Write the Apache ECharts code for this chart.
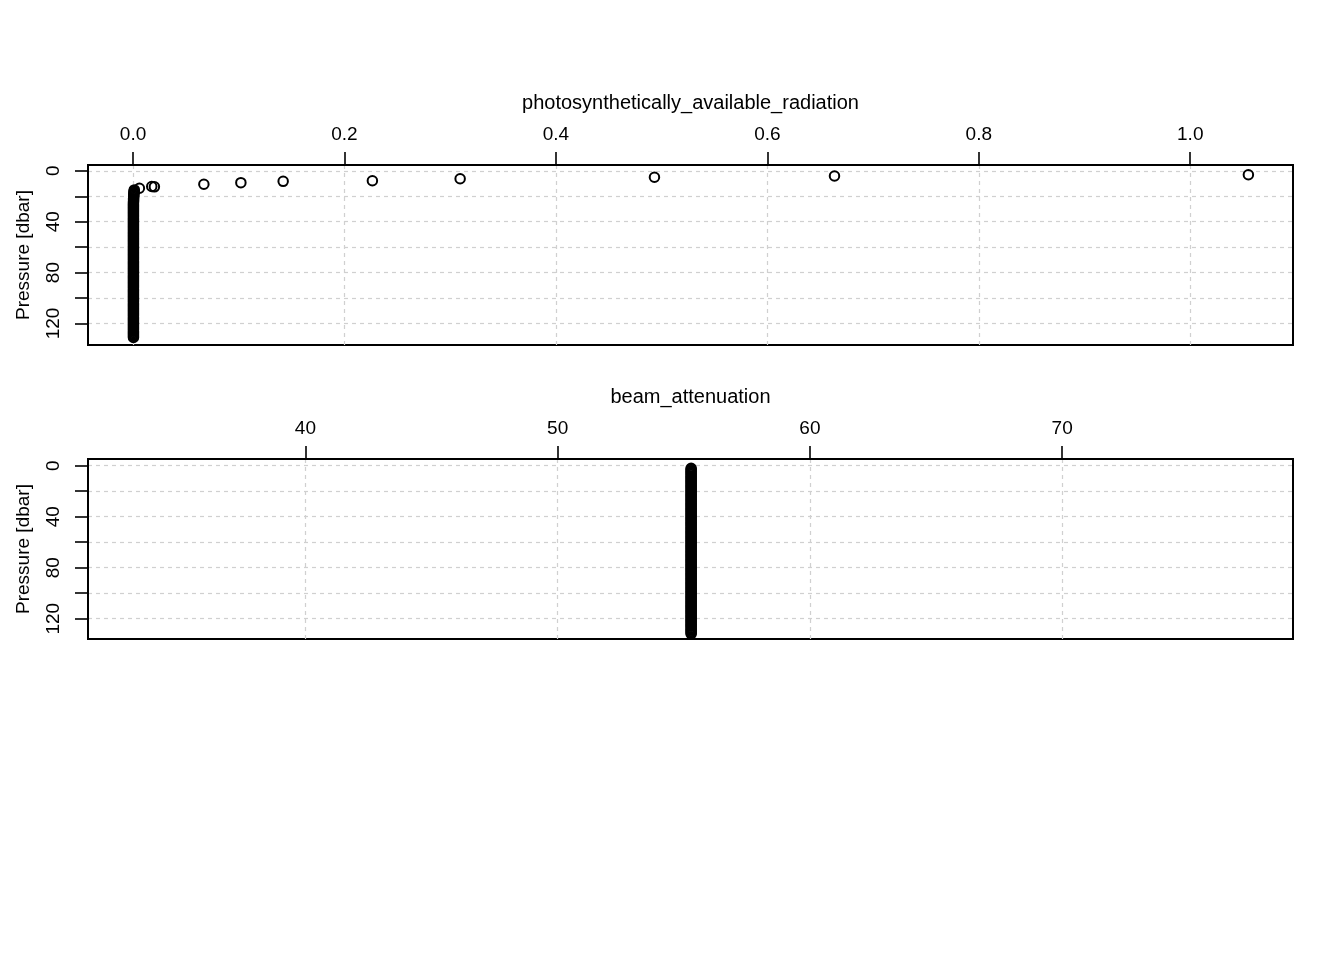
<!DOCTYPE html>
<html>
<head>
<meta charset="utf-8">
<script src="https://cdn.jsdelivr.net/npm/echarts@6/dist/echarts.min.js"></script>
<style>
html,body{margin:0;padding:0;background:#fff;}
#chart{width:1344px;height:960px;}
</style>
</head>
<body>
<div id="chart"></div>
<script>
// ---- Panel 1: photosynthetically_available_radiation ----
var parTitle = "photosynthetically_available_radiation";
var parPressure = [
  3.1, 4.1, 5.1, 6.2, 7.8, 8.3, 9.3, 10.6, 12.3, 12.6, 13.7,
  15, 16, 17, 18, 19, 20, 21, 22, 23, 24, 25, 26, 27, 28, 29, 30,
  31, 32, 33, 34, 35, 36, 37, 38, 39, 40, 41, 42, 43, 44, 45, 46, 47, 48, 49, 50,
  51, 52, 53, 54, 55, 56, 57, 58, 59, 60, 61, 62, 63, 64, 65, 66, 67, 68, 69, 70,
  71, 72, 73, 74, 75, 76, 77, 78, 79, 80, 81, 82, 83, 84, 85, 86, 87, 88, 89, 90,
  91, 92, 93, 94, 95, 96, 97, 98, 99, 100, 101, 102, 103, 104, 105, 106, 107, 108, 109, 110,
  111, 112, 113, 114, 115, 116, 117, 118, 119, 120, 121, 122, 123, 124, 125, 126, 127, 128, 129, 130, 131
];
var parValue = [
  1.055, 0.6635, 0.4932, 0.3094, 0.2264, 0.142, 0.102, 0.067, 0.0177, 0.0202, 0.006,
  0.0012, 0.0010, 0.0009, 0.0008, 0.0007, 0.0006, 0.0006, 0.0005, 0.0005, 0.0005, 0.0004, 0.0004, 0.0004, 0.0004, 0.0004, 0.0004,
  0.0004, 0.0004, 0.0004, 0.0004, 0.0004, 0.0004, 0.0004, 0.0004, 0.0004, 0.0004, 0.0004, 0.0004, 0.0004, 0.0004, 0.0004, 0.0004, 0.0004, 0.0004, 0.0004, 0.0004,
  0.0004, 0.0004, 0.0004, 0.0004, 0.0004, 0.0004, 0.0004, 0.0004, 0.0004, 0.0004, 0.0004, 0.0004, 0.0004, 0.0004, 0.0004, 0.0004, 0.0004, 0.0004, 0.0004, 0.0004,
  0.0004, 0.0004, 0.0004, 0.0004, 0.0004, 0.0004, 0.0004, 0.0004, 0.0004, 0.0004, 0.0004, 0.0004, 0.0004, 0.0004, 0.0004, 0.0004, 0.0004, 0.0004, 0.0004, 0.0004,
  0.0004, 0.0004, 0.0004, 0.0004, 0.0004, 0.0004, 0.0004, 0.0004, 0.0004, 0.0004, 0.0004, 0.0004, 0.0004, 0.0004, 0.0004, 0.0004, 0.0004, 0.0004, 0.0004, 0.0004,
  0.0004, 0.0004, 0.0004, 0.0004, 0.0004, 0.0004, 0.0004, 0.0004, 0.0004, 0.0004, 0.0004, 0.0004, 0.0004, 0.0004, 0.0004, 0.0004, 0.0004, 0.0004, 0.0004, 0.0004, 0.0004
];
var parTicks = [0, 0.2, 0.4, 0.6, 0.8, 1.0];

// ---- Panel 2: beam_attenuation ----
var beamTitle = "beam_attenuation";
var beamPressure = [
  2, 3, 4, 5, 6, 7, 8, 9, 10, 11, 12, 13, 14, 15, 16, 17, 18, 19, 20,
  21, 22, 23, 24, 25, 26, 27, 28, 29, 30, 31, 32, 33, 34, 35, 36, 37, 38, 39, 40,
  41, 42, 43, 44, 45, 46, 47, 48, 49, 50, 51, 52, 53, 54, 55, 56, 57, 58, 59, 60,
  61, 62, 63, 64, 65, 66, 67, 68, 69, 70, 71, 72, 73, 74, 75, 76, 77, 78, 79, 80,
  81, 82, 83, 84, 85, 86, 87, 88, 89, 90, 91, 92, 93, 94, 95, 96, 97, 98, 99, 100,
  101, 102, 103, 104, 105, 106, 107, 108, 109, 110, 111, 112, 113, 114, 115, 116, 117, 118, 119, 120,
  121, 122, 123, 124, 125, 126, 127, 128, 129, 130, 131, 132
];
var beamValue = [
  55.29, 55.29, 55.29, 55.29, 55.29, 55.29, 55.29, 55.29, 55.29, 55.29, 55.29, 55.29, 55.29, 55.29, 55.29, 55.29, 55.29, 55.29, 55.29,
  55.29, 55.29, 55.29, 55.29, 55.29, 55.29, 55.29, 55.29, 55.29, 55.29, 55.29, 55.29, 55.29, 55.29, 55.29, 55.29, 55.29, 55.29, 55.29, 55.29,
  55.29, 55.29, 55.29, 55.29, 55.29, 55.29, 55.29, 55.29, 55.29, 55.29, 55.29, 55.29, 55.29, 55.29, 55.29, 55.29, 55.29, 55.29, 55.29, 55.29,
  55.29, 55.29, 55.29, 55.29, 55.29, 55.29, 55.29, 55.29, 55.29, 55.29, 55.29, 55.29, 55.29, 55.29, 55.29, 55.29, 55.29, 55.29, 55.29, 55.29,
  55.29, 55.29, 55.29, 55.29, 55.29, 55.29, 55.29, 55.29, 55.29, 55.29, 55.29, 55.29, 55.29, 55.29, 55.29, 55.29, 55.29, 55.29, 55.29, 55.29,
  55.29, 55.29, 55.29, 55.29, 55.29, 55.29, 55.29, 55.29, 55.29, 55.29, 55.29, 55.29, 55.29, 55.29, 55.29, 55.29, 55.29, 55.29, 55.29, 55.29,
  55.29, 55.29, 55.29, 55.29, 55.29, 55.29, 55.29, 55.29, 55.29, 55.29, 55.29, 55.29
];
var beamTicks = [40, 50, 60, 70];

var pressureTicks = [0, 20, 40, 60, 80, 100, 120];
var pressureLabels = [0, 40, 80, 120];
var yName = "Pressure [dbar]";

function pairs(xs, ys) {
  var out = [];
  for (var i = 0; i < xs.length; i++) out.push([xs[i], ys[i]]);
  return out;
}

var FONT = "Liberation Sans";
var FS = 19;
var gridLine = { show: true, lineStyle: { color: '#d0d0d0', type: [4, 4], width: 1.2 } };

function xAxisDef(idx, min, max, ticks, title, fmt) {
  return {
    gridIndex: idx, type: 'value', position: 'top', min: min, max: max,
    name: title, nameLocation: 'middle', nameGap: 52,
    nameTextStyle: { fontFamily: FONT, fontSize: 20, color: '#000' },
    axisLine: { show: true, onZero: false, lineStyle: { color: '#000', width: 2 } },
    axisTick: { show: true, inside: false, length: 13, customValues: ticks, lineStyle: { color: '#000', width: 1.6 } },
    axisLabel: { show: true, customValues: ticks, margin: 21, fontFamily: FONT, fontSize: FS, color: '#000', formatter: fmt },
    splitLine: gridLine
  };
}
function yAxisDef(idx, min, max) {
  return {
    gridIndex: idx, type: 'value', inverse: true, min: min, max: max,
    name: yName, nameLocation: 'middle', nameGap: 55, nameRotate: 90,
    nameTextStyle: { fontFamily: FONT, fontSize: FS, color: '#000' },
    axisLine: { show: true, onZero: false, lineStyle: { color: '#000', width: 2 } },
    axisTick: { show: true, inside: false, length: 13, customValues: pressureTicks, lineStyle: { color: '#000', width: 1.6 } },
    axisLabel: { show: true, customValues: pressureLabels, rotate: 90, margin: 25, fontFamily: FONT, fontSize: FS, color: '#000' },
    splitLine: gridLine
  };
}

var symStyle = { color: 'rgba(0,0,0,0)', borderColor: '#000', borderWidth: 2, opacity: 1 };

var option = {
  animation: false,
  backgroundColor: '#fff',
  grid: [
    { left: 88, top: 165, width: 1205, height: 180, show: true, borderColor: '#000', borderWidth: 2, backgroundColor: 'transparent' },
    { left: 88, top: 459, width: 1205, height: 180, show: true, borderColor: '#000', borderWidth: 2, backgroundColor: 'transparent' }
  ],
  xAxis: [
    xAxisDef(0, -0.0426, 1.0972, parTicks, parTitle, function (v) { return v.toFixed(1); }),
    xAxisDef(1, 31.38, 79.15, beamTicks, beamTitle, function (v) { return String(v); })
  ],
  yAxis: [
    yAxisDef(0, -4.56, 136.9),
    yAxisDef(1, -5.24, 135.9)
  ],
  series: [
    { type: 'scatter', xAxisIndex: 0, yAxisIndex: 0, symbol: 'circle', symbolSize: 9.5,
      itemStyle: symStyle, data: pairs(parValue, parPressure), z: 3 },
    { type: 'scatter', xAxisIndex: 1, yAxisIndex: 1, symbol: 'circle', symbolSize: 9.5,
      itemStyle: symStyle, data: pairs(beamValue, beamPressure), z: 3 }
  ]
};

var chart = echarts.init(document.getElementById('chart'), null, { renderer: 'canvas' });
chart.setOption(option);
</script>
</body>
</html>
